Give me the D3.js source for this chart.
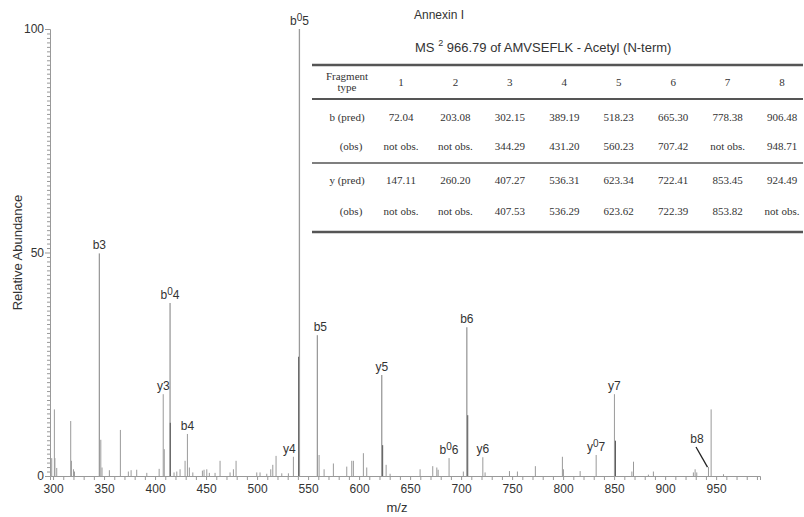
<!DOCTYPE html>
<html>
<head>
<meta charset="utf-8">
<script src="https://cdn.jsdelivr.net/npm/d3@7"></script>
<style>
  body { margin: 0; background: #fff; }
  svg text { font-family: "Liberation Sans", Arial, sans-serif; fill: #333; }
  .tbl text { font-family: "Liberation Serif", "Times New Roman", serif; font-size: 11px; fill: #333; }
</style>
</head>
<body>
<script>
// spectrum peaks (m/z, relative abundance)
var peakMz  = [298.7, 301.3, 301.8, 303.6, 317.3, 318.0, 320.0, 321.0, 345.4, 346.8, 348.0, 355.2, 366.0, 373.8, 376.5, 382.0, 391.9, 404.0,
               408.0, 409.0, 414.7, 414.9, 418.6, 421.3, 424.5, 429.4, 431.7, 433.6, 437.0, 446.4, 448.0, 450.7, 453.2, 458.8, 463.7,
               473.5, 476.8, 479.4, 499.7, 502.9, 509.5, 513.4, 515.4, 518.6, 524.2, 530.7, 535.6, 540.8, 541.5, 559.1, 560.8, 565.7,
               574.8, 587.9, 592.8, 594.4, 604.2, 607.5, 622.2, 623.1, 626.5, 630.4, 659.8, 672.2, 676.2, 677.5, 688.2, 702.2, 705.6,
               706.5, 721.3, 723.5, 747.4, 755.2, 772.8, 799.3, 800.3, 816.7, 832.4, 850.3, 851.3, 867.4, 869.0, 883.6, 888.5, 927.7,
               929.4, 931.0, 942.5, 945.1, 957.2];
var peakInt = [4.0, 14.9, 4.0, 1.8, 12.3, 3.4, 1.5, 1.0, 49.8, 8.1, 1.9, 1.3, 10.3, 1.0, 1.3, 1.4, 0.7, 1.6,
               18.3, 6.0, 38.7, 11.9, 0.8, 1.0, 1.5, 3.4, 9.4, 1.9, 0.8, 1.2, 1.4, 1.5, 0.7, 0.7, 3.4,
               0.8, 1.5, 3.4, 0.8, 0.8, 0.5, 1.5, 2.5, 4.5, 0.6, 0.6, 4.3, 26.7, 100, 31.5, 4.7, 1.5,
               2.8, 2.1, 3.4, 3.4, 5.1, 1.9, 22.6, 6.9, 2.5, 0.5, 1.5, 2.2, 1.9, 1.4, 4.0, 1.0, 33.3,
               13.6, 4.2, 0.8, 1.1, 1.0, 2.2, 4.3, 1.5, 1.1, 4.7, 18.3, 7.9, 1.0, 3.2, 0.3, 1.0, 0.8,
               1.5, 0.8, 2.0, 14.9, 0.4];
// overlapping peaks drawn darker
var darkMz = [414.9, 540.8, 623.1, 706.5, 851.3];

// annotated fragment ions ("^" marks a superscript character)
var ionMz   = [345.4, 408.0, 414.7, 431.7, 535.6, 541.5, 559.1, 622.2, 688.2, 705.6, 721.3, 832.4, 850.3, 942.5];
var ionText = ["b3", "y3", "b^04", "b4", "y4", "b^05", "b5", "y5", "b^06", "b6", "y6", "y^07", "y7", "b8"];
var labelNudge = { "y4": [-4, 0], "b5": [3, 0] };

// fragment table
var fragCols = ["1", "2", "3", "4", "5", "6", "7", "8"];
var rowNames = ["b (pred)", "(obs)", "y (pred)", "(obs)"];
var bPred = ["72.04", "203.08", "302.15", "389.19", "518.23", "665.30", "778.38", "906.48"];
var bObs  = ["not obs.", "not obs.", "344.29", "431.20", "560.23", "707.42", "not obs.", "948.71"];
var yPred = ["147.11", "260.20", "407.27", "536.31", "623.34", "722.41", "853.45", "924.49"];
var yObs  = ["not obs.", "not obs.", "407.53", "536.29", "623.62", "722.39", "853.82", "not obs."];

var xTicks = d3.range(300, 1000, 10);
var yTicks = d3.range(0, 101, 1);

var width = 804, height = 517;

var svg = d3.select("body").append("svg")
    .attr("width", width)
    .attr("height", height);

var x = d3.scaleLinear().domain([297, 993]).range([50, 760]);
var y = d3.scaleLinear().domain([0, 100]).range([476, 29]);

// axes
var xAxis = svg.append("g")
    .attr("transform", "translate(0," + y(0) + ")")
    .call(d3.axisBottom(x).tickValues(xTicks).tickSize(4).tickPadding(4)
        .tickFormat(function (d) { return d % 50 === 0 ? d : ""; }));
var yAxis = svg.append("g")
    .attr("transform", "translate(" + x(297) + ",0)")
    .call(d3.axisLeft(y).tickValues(yTicks).tickSize(3).tickPadding(3)
        .tickFormat(function (d) { return d % 50 === 0 ? d : ""; }));

[xAxis, yAxis].forEach(function (g) {
    g.selectAll("path, line").attr("stroke", "#999");
    g.selectAll("text").attr("font-size", 12).attr("fill", "#444")
        .attr("font-family", "Liberation Sans, Arial, sans-serif");
});
yAxis.selectAll(".tick").filter(function (d) { return d % 50 === 0; })
    .select("line").attr("x2", -5);

svg.append("text")
    .attr("transform", "translate(22," + y(50) + ") rotate(-90)")
    .attr("text-anchor", "middle")
    .attr("font-size", 13)
    .text("Relative Abundance");

svg.append("text")
    .attr("x", 397).attr("y", 512)
    .attr("text-anchor", "middle")
    .attr("font-size", 13)
    .text("m/z");

// peaks
var peaks = peakMz.map(function (m, i) { return { mz: m, v: peakInt[i] }; });
svg.append("g").selectAll("line")
    .data(peaks)
    .enter().append("line")
    .attr("x1", function (d) { return x(d.mz); })
    .attr("x2", function (d) { return x(d.mz); })
    .attr("y1", y(0))
    .attr("y2", function (d) { return y(d.v); })
    .attr("stroke", function (d) { return darkMz.indexOf(d.mz) >= 0 ? "#555" : "#9a9a9a"; })
    .attr("stroke-width", function (d) { return d.v > 20 ? 1.3 : 1; });

// ion labels
function peakHeight(m) {
    return peakInt[peakMz.indexOf(m)];
}
var labels = svg.append("g");
ionMz.forEach(function (m, i) {
    var t = ionText[i];
    var nud = labelNudge[t] || [0, 0];
    var lx = x(m) + nud[0];
    var ly = y(peakHeight(m)) - 4 + nud[1];
    if (t === "b8") {
        // label sits up-left with a leader line to the small peak
        lx = 697; ly = 443;
        labels.append("line")
            .attr("x1", 696).attr("y1", 447)
            .attr("x2", x(m) - 1).attr("y2", y(peakHeight(m)))
            .attr("stroke", "#222").attr("stroke-width", 1.3);
    }
    var txt = labels.append("text")
        .attr("x", lx).attr("y", ly)
        .attr("text-anchor", "middle")
        .attr("font-size", 12);
    if (t.indexOf("^") >= 0) {
        txt.append("tspan").text(t[0]);
        txt.append("tspan").attr("dy", -4).attr("font-size", 10).text(t[2]);
        txt.append("tspan").attr("dy", 4).text(t.slice(3));
    } else {
        txt.text(t);
    }
});

// title
svg.append("text")
    .attr("x", 414).attr("y", 19)
    .attr("font-size", 12)
    .text("Annexin I");
var sub = svg.append("text")
    .attr("x", 415).attr("y", 52)
    .attr("font-size", 13);
sub.append("tspan").text("MS ");
sub.append("tspan").attr("dy", -6).attr("font-size", 9).text("2");
sub.append("tspan").attr("dy", 6).text(" 966.79 of AMVSEFLK - Acetyl (N-term)");

// fragment table
var tbl = svg.append("g").attr("class", "tbl");
var cx = d3.scalePoint().domain(fragCols).range([401, 782]);
var tblLeft = 312, tblRight = 803, labelX = 347;

[[65, 2.5], [99, 2], [163, 1.3], [232, 2.5]].forEach(function (r) {
    tbl.append("line")
        .attr("x1", tblLeft).attr("x2", tblRight)
        .attr("y1", r[0]).attr("y2", r[0])
        .attr("stroke", "#555").attr("stroke-width", r[1]);
});

tbl.append("text").attr("x", labelX).attr("y", 80).attr("text-anchor", "middle").text("Fragment");
tbl.append("text").attr("x", labelX).attr("y", 91).attr("text-anchor", "middle").text("type");
tbl.selectAll("text.head")
    .data(fragCols)
    .enter().append("text")
    .attr("class", "head")
    .attr("x", function (d) { return cx(d); })
    .attr("y", 86)
    .attr("text-anchor", "middle")
    .text(function (d) { return d; });

var rows = [bPred, bObs, yPred, yObs];
var rowY = [121, 150, 184, 215];
rows.forEach(function (vals, r) {
    tbl.append("text")
        .attr("x", labelX + (r % 2 === 1 ? 4 : 0)).attr("y", rowY[r])
        .attr("text-anchor", "middle")
        .text(rowNames[r]);
    tbl.selectAll("text.r" + r)
        .data(vals)
        .enter().append("text")
        .attr("class", "r" + r)
        .attr("x", function (d, i) { return cx(fragCols[i]); })
        .attr("y", rowY[r])
        .attr("text-anchor", "middle")
        .text(function (d) { return d; });
});
</script>
</body>
</html>
